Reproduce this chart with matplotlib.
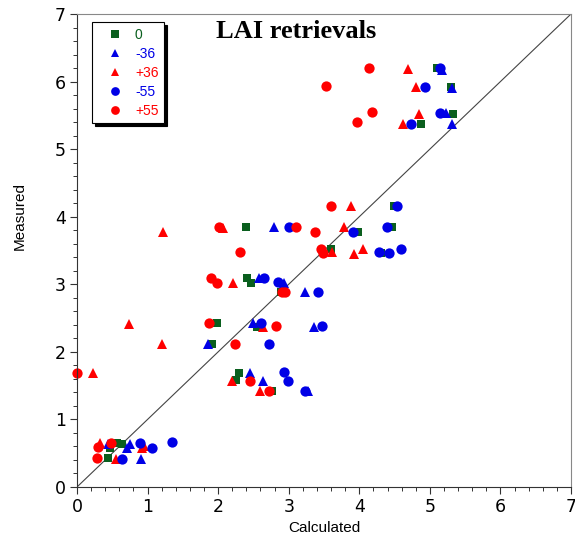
import matplotlib
matplotlib.use("Agg")
import matplotlib.pyplot as plt
from matplotlib.ticker import MultipleLocator

# 0 (green squares)
x_0 = [5.10, 5.30, 5.33, 4.87, 4.49, 3.98, 4.46, 2.39, 3.60, 4.31, 2.41, 2.46,
       2.89, 1.98, 2.55, 1.91, 2.29, 2.25, 2.76, 0.57, 0.64, 0.47, 0.44]
y_0 = [6.20, 5.92, 5.52, 5.37, 4.16, 3.78, 3.85, 3.85, 3.52, 3.46, 3.09, 3.02,
       2.88, 2.43, 2.37, 2.12, 1.69, 1.58, 1.42, 0.65, 0.64, 0.58, 0.43]

# -36 (blue triangles)
x_m36 = [5.17, 5.31, 5.23, 5.31, 2.79, 2.58, 2.93, 3.23, 2.50, 3.36, 1.86, 2.45,
         2.64, 3.27, 0.44, 0.75, 0.71, 0.91]
y_m36 = [6.17, 5.90, 5.53, 5.37, 3.85, 3.09, 3.02, 2.88, 2.43, 2.37, 2.12, 1.69,
         1.57, 1.42, 0.63, 0.64, 0.58, 0.41]

# +36 (red triangles)
x_p36 = [4.69, 4.80, 4.84, 4.62, 3.88, 2.07, 3.78, 3.61, 3.92, 4.05, 1.22, 2.21,
         0.74, 2.64, 1.20, 0.23, 2.20, 2.59, 0.33, 0.95, 0.92, 0.55]
y_p36 = [6.18, 5.92, 5.52, 5.37, 4.16, 3.84, 3.85, 3.48, 3.45, 3.52, 3.77, 3.02,
         2.41, 2.37, 2.12, 1.69, 1.57, 1.42, 0.65, 0.61, 0.58, 0.41]

# -55 (blue circles)
x_m55 = [5.14, 4.93, 5.14, 4.73, 4.53, 3.00, 3.91, 4.39, 4.28, 4.42, 4.59, 2.65,
         2.85, 3.41, 2.61, 3.47, 2.72, 2.93, 2.99, 3.23, 0.89, 1.06, 1.35, 0.64]
y_m55 = [6.20, 5.92, 5.53, 5.37, 4.16, 3.85, 3.78, 3.85, 3.48, 3.46, 3.52, 3.09,
         3.03, 2.88, 2.43, 2.38, 2.12, 1.70, 1.57, 1.42, 0.65, 0.58, 0.66, 0.41]

# +55 (red circles)
x_p55 = [4.14, 3.53, 4.18, 3.97, 3.60, 2.01, 3.11, 3.37, 2.31, 3.46, 3.49, 1.90,
         1.98, 2.90, 2.95, 1.87, 2.82, 2.24, 0.00, 2.45, 2.72, 0.30, 0.48, 0.28]
y_p55 = [6.20, 5.93, 5.55, 5.40, 4.16, 3.85, 3.85, 3.78, 3.48, 3.52, 3.46, 3.09,
         3.02, 2.88, 2.88, 2.43, 2.38, 2.12, 1.69, 1.57, 1.42, 0.59, 0.65, 0.43]

GREEN = "#0a5f1e"
BLUE = "#0000e6"
RED = "#ff0000"

fig = plt.figure(figsize=(5.75, 5.41), dpi=100)
ax = fig.add_axes([77 / 575, 1 - 487 / 541, 494 / 575, 473 / 541])

ax.plot([0, 7], [0, 7], color="#444444", lw=0.8, zorder=1)

series = [
    (x_0, y_0, "s", 6.3, GREEN, "0"),
    (x_m36, y_m36, "^", 7.2, BLUE, "-36"),
    (x_p36, y_p36, "^", 7.2, RED, "+36"),
    (x_m55, y_m55, "o", 7.4, BLUE, "-55"),
    (x_p55, y_p55, "o", 7.4, RED, "+55"),
]
for xs, ys, mk, ms, col, lab in series:
    ax.plot(xs, ys, linestyle="none", marker=mk, markersize=ms, color=col,
            markeredgewidth=0, label=lab, zorder=2, clip_on=False)

ax.set_xlim(0, 7)
ax.set_ylim(0, 7)
ax.xaxis.set_major_locator(MultipleLocator(1))
ax.yaxis.set_major_locator(MultipleLocator(1))
ax.xaxis.set_minor_locator(MultipleLocator(0.2))
ax.yaxis.set_minor_locator(MultipleLocator(0.2))
ax.tick_params(which="major", direction="out", length=5, width=0.8,
               labelsize=12.5, pad=3, color="#333333")
ax.tick_params(which="minor", direction="out", length=3, width=0.7,
               color="#333333")
for lab in ax.get_xticklabels() + ax.get_yticklabels():
    lab.set_family("DejaVu Sans")

for side in ("top", "right"):
    ax.spines[side].set_color("#888888")
for side in ("left", "bottom"):
    ax.spines[side].set_color("#333333")

fig.text(324 / 575, 1 - 528 / 541, "Calculated", ha="center", va="center",
         fontsize=11, family="Liberation Sans")
fig.text(20 / 575, 1 - 216 / 541, "Measured", ha="center", va="center",
         rotation=90, fontsize=11, family="Liberation Sans")
fig.text(296 / 575, 1 - 31 / 541, "LAI retrievals", ha="center", va="center",
         fontsize=19, fontweight="bold", family="Liberation Serif")

leg = ax.legend(loc="upper left", bbox_to_anchor=(0.030, 0.983),
                borderaxespad=0, frameon=True, fancybox=False,
                edgecolor="black", framealpha=1,
                labelcolor="markerfacecolor", markerscale=0.85,
                handlelength=2.6, handletextpad=0.1, labelspacing=0.36,
                borderpad=0.4,
                prop={"family": "Liberation Sans", "size": 10},
                shadow={"facecolor": "black", "edgecolor": "black", "alpha": 1})
leg.get_frame().set_linewidth(0.8)
leg.set_zorder(5)

fig.savefig("out.png", dpi=100)
